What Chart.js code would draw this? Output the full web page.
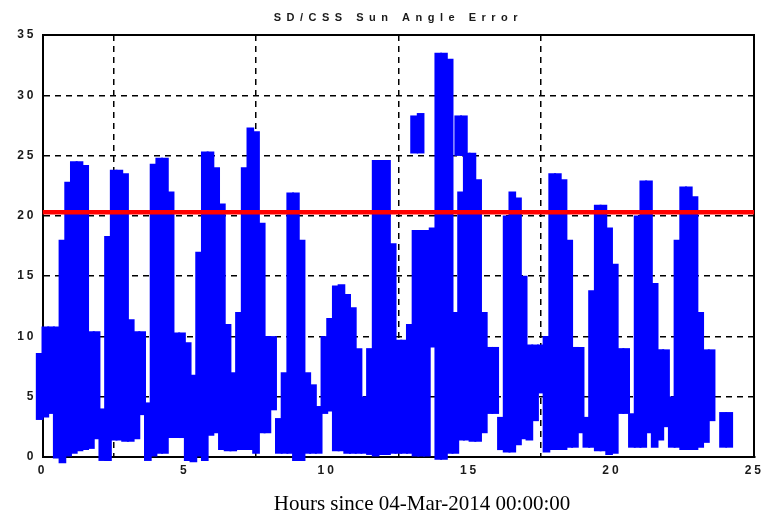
<!DOCTYPE html>
<html>
<head>
<meta charset="utf-8">
<script src="https://cdn.jsdelivr.net/npm/chart.js@4.4.1/dist/chart.umd.min.js"></script>
<style>
  html, body { margin: 0; padding: 0; background: #fff; }
  #wrap { position: relative; width: 767px; height: 516px; }
  #xlabel {
    position: absolute; left: 0; top: 491px; width: 767px; padding-left: 77px;
    box-sizing: border-box; text-align: center;
    font: 21px "Liberation Serif", serif; color: #000;
  }
</style>
</head>
<body>
<div id="wrap">
  <canvas id="myChart" width="767" height="516"></canvas>
  <div id="xlabel">Hours since 04-Mar-2014 00:00:00</div>
</div>
<script>
// sun angle error (hours, low / high edge of the blue band)
const hours = [
  -0.1, 0.1, 0.3, 0.5, 0.7, 0.9, 1.1, 1.3, 1.5, 1.7, 1.9,
  2.1, 2.3, 2.5, 2.7, 2.9, 3.1, 3.3, 3.5, 3.7, 3.9,
  4.1, 4.3, 4.5, 4.7, 4.9, 5.1, 5.3, 5.5, 5.7, 5.9,
  6.1, 6.3, 6.5, 6.7, 6.9, 7.1, 7.3, 7.5, 7.7, 7.9,
  8.1, 8.3, 8.5, 8.7, 8.9, 9.1, 9.3, 9.5, 9.7, 9.9,
  10.1, 10.3, 10.5, 10.7, 10.9, 11.1, 11.3, 11.5, 11.7, 11.9,
  12.1, 12.3, 12.5, 12.7, 12.9, 13.1, 13.3, 13.5, 13.7, 13.9,
  14.1, 14.3, 14.5, 14.7, 14.9, 15.1, 15.3, 15.5, 15.7, 15.9,
  16.1, 16.3, 16.5, 16.7, 16.9, 17.1, 17.3, 17.5, 17.7, 17.9,
  18.1, 18.3, 18.5, 18.7, 18.9, 19.1, 19.3, 19.5, 19.7, 19.9,
  20.1, 20.3, 20.5, 20.7, 20.9, 21.1, 21.3, 21.5, 21.7, 21.9,
  22.1, 22.3, 22.5, 22.7, 22.9, 23.1, 23.3, 23.5, 23.9, 24.12
];
const errLow = [
  3.1, 3.3, 3.6, -0.1, -0.5, 0.0, 0.3, 0.5, 0.6, 0.7, 1.5,
  -0.3, -0.3, 1.4, 1.4, 1.3, 1.3, 1.5, 3.5, -0.3, 0.0,
  0.3, 0.3, 1.6, 1.6, 1.6, -0.3, -0.4, 0.0, -0.3, 1.8,
  2.0, 0.6, 0.5, 0.5, 0.6, 0.6, 0.6, 0.3, 2.0, 2.0,
  3.9, 0.3, 0.3, 0.3, -0.3, -0.3, 0.3, 0.3, 0.3, 3.6,
  3.8, 0.5, 0.5, 0.3, 0.3, 0.3, 0.3, 0.2, 0.0, 0.2,
  0.2, 0.3, 0.3, 0.3, 0.3, 0.0, 0.0, 0.0, 9.1, -0.2,
  -0.2, 0.3, 0.3, 1.4, 1.4, 1.3, 1.3, 2.0, 3.6, 3.6,
  0.6, 0.4, 0.4, 1.0, 1.5, 1.4, 3.0, 5.3, 0.4, 0.6,
  0.6, 0.6, 0.8, 0.8, 2.0, 0.8, 0.8, 0.5, 0.5, 0.2,
  0.3, 3.6, 3.6, 0.8, 0.8, 0.8, 2.0, 0.8, 1.4, 2.5,
  0.8, 0.8, 0.6, 0.6, 0.6, 0.8, 1.2, 3.0, 0.8, 0.8
];
const errHigh = [
  8.6, 10.8, 10.8, 10.8, 18.0, 22.8, 24.5, 24.5, 24.2, 10.4, 10.4,
  4.0, 18.3, 23.8, 23.8, 23.5, 11.4, 10.4, 10.4, 4.5, 24.3,
  24.8, 24.8, 22.0, 10.3, 10.3, 9.5, 6.8, 17.0, 25.3, 25.3,
  24.0, 21.0, 11.0, 7.0, 12.0, 24.0, 27.3, 27.0, 19.4, 10.0,
  10.0, 3.2, 7.0, 21.9, 21.9, 18.0, 7.0, 6.0, 4.2, 10.0,
  11.5, 14.2, 14.3, 13.5, 12.4, 9.0, 5.0, 9.0, 24.6, 24.6,
  24.6, 17.7, 9.7, 9.7, 11.0, 18.8, 18.8, 18.8, 19.0, 33.5,
  33.5, 33.0, 12.0, 22.0, 25.2, 25.2, 23.0, 12.0, 9.1, 9.1,
  3.3, 20.0, 22.0, 21.5, 15.0, 9.3, 9.3, 9.3, 10.0, 23.5,
  23.5, 23.0, 18.0, 9.1, 9.1, 3.3, 13.8, 20.9, 20.9, 19.0,
  16.0, 9.0, 9.0, 3.6, 20.0, 22.9, 22.9, 14.4, 8.9, 8.9,
  5.0, 18.0, 22.4, 22.4, 21.6, 12.0, 8.9, 8.9, 3.7, 3.7
];
// detached islands above the main band
const islandHours = [13.05, 13.28, 14.6, 14.8];
const islandLow = [25.2, 25.2, 25.0, 25.0];
const islandHigh = [28.3, 28.5, 28.3, 28.3];

const threshold = 20.3;
const xTickValues = [0, 5, 10, 15, 20, 25];
const yTickValues = [0, 5, 10, 15, 20, 25, 30, 35];

const bandData = hours.map((h, i) => ({ x: h, y: [errLow[i], errHigh[i]] }));
const islandData = islandHours.map((h, i) => ({ x: h, y: [islandLow[i], islandHigh[i]] }));

// canvas letter spacing: wide for the title, a bit less for the tick labels
const spacingPlugin = {
  id: 'spacing',
  beforeDraw(chart) { chart.ctx.letterSpacing = '5.5px'; },
  afterDatasetsDraw(chart) { chart.ctx.letterSpacing = '3px'; },
  afterDraw(chart) { chart.ctx.letterSpacing = '0px'; }
};

const tickFont = { family: 'Liberation Sans', size: 12, weight: 'bold' };
const hideEdge = (lo, hi) => c => (c.tick && (c.tick.value === lo || c.tick.value === hi)) ? 'rgba(0,0,0,0)' : '#000';

const ctx = document.getElementById('myChart').getContext('2d');
new Chart(ctx, {
  type: 'bar',
  data: {
    datasets: [
      {
        type: 'line',
        data: [{ x: 0, y: threshold }, { x: 25, y: threshold }],
        borderColor: '#ff0000',
        borderWidth: 4.5,
        pointRadius: 0,
        order: 0
      },
      {
        data: bandData,
        backgroundColor: '#0000ff',
        borderWidth: 0,
        borderSkipped: false,
        barThickness: 7,
        grouped: false,
        clip: false,
        order: 1
      },
      {
        data: islandData,
        backgroundColor: '#0000ff',
        borderWidth: 0,
        borderSkipped: false,
        barThickness: 7,
        grouped: false,
        clip: false,
        order: 1
      }
    ]
  },
  options: {
    responsive: false,
    animation: false,
    devicePixelRatio: 1,
    layout: { padding: { left: 0, right: 10.5, top: 0, bottom: 0 } },
    plugins: {
      legend: { display: false },
      tooltip: { enabled: false },
      title: {
        display: true,
        fullSize: false,
        text: 'SD/CSS Sun Angle Error',
        color: '#1a1a1a',
        font: { family: 'Liberation Sans', size: 11, weight: 'bold' },
        padding: { top: 11, bottom: 10.8 }
      }
    },
    scales: {
      x: {
        type: 'linear', min: 0, max: 25, offset: false,
        afterBuildTicks: s => { s.ticks = xTickValues.map(v => ({ value: v })); },
        afterFit: s => { s.height = 59; },
        grid: { color: hideEdge(0, 25), lineWidth: 1.5, drawTicks: false },
        border: { display: true, color: '#000', width: 2, dash: [6, 5] },
        ticks: { z: 1, padding: 6, color: '#1a1a1a', font: tickFont, maxRotation: 0, autoSkip: false }
      },
      y: {
        type: 'linear', min: 0, max: 35,
        afterBuildTicks: s => { s.ticks = yTickValues.map(v => ({ value: v })); },
        afterFit: s => { s.width = 42.5; },
        grid: { color: hideEdge(0, 35), lineWidth: 1.5, drawTicks: false },
        border: { display: true, color: '#000', width: 2, dash: [6, 5] },
        ticks: { z: 1, padding: 6, color: '#1a1a1a', font: tickFont }
      },
      x2: {
        type: 'linear', position: 'top', min: 0, max: 25, offset: false,
        afterFit: s => { s.height = 0; },
        grid: { display: false },
        ticks: { display: false },
        border: { display: true, color: '#000', width: 2 }
      },
      y2: {
        type: 'linear', position: 'right', min: 0, max: 35,
        afterFit: s => { s.width = 0; },
        grid: { display: false },
        ticks: { display: false },
        border: { display: true, color: '#000', width: 2 }
      }
    }
  },
  plugins: [spacingPlugin]
});
</script>
</body>
</html>
